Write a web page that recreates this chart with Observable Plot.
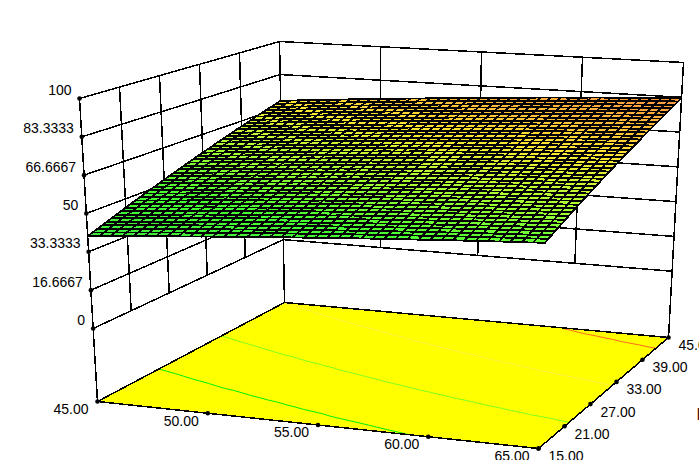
<!DOCTYPE html>
<html><head><meta charset="utf-8">
<style>html,body{margin:0;padding:0;background:#fff;overflow:hidden}svg{display:block}</style>
<script src="https://cdn.jsdelivr.net/npm/d3@7"></script>
<script src="https://cdn.jsdelivr.net/npm/@observablehq/plot@0.6"></script>
</head><body><div id="chart"></div>
<script>
const xTicks=[45,50,55,60,65];
const yTicks=[15,21,27,33,39,45];
const zTicks=[0,16.6667,33.3333,50,66.6667,83.3333,100];
const xLabels=["45.00","50.00","55.00","60.00","65.00"];
const yLabels=["15.00","21.00","27.00","33.00","39.00","45.00"];
const zLabels=["0","16.6667","33.3333","50","66.6667","83.3333","100"];
const contourLevels=[50,60,70,80];
const contourColors=["#00f000","#80ff20","#ffee40","#ff6a20"];
const zFloor=-31.75;
// response (tenths), rows y=15..45, columns x=45..65
const zTenths=[
[401,405,409,413,417,421,425,429,433,436,440,444,447,451,454,458,461,465,468,471,475,478,481,484,487,490,493,496,499,501,504,507,510,512,515,517,520,522,524,527,529],
[409,413,417,421,425,429,433,437,441,444,448,452,455,459,462,466,469,473,476,479,483,486,489,492,495,498,501,504,507,509,512,515,518,520,523,525,528,530,532,535,537],
[416,420,424,428,432,436,440,444,448,451,455,459,462,466,469,473,476,480,483,486,490,493,496,499,502,505,508,511,514,516,519,522,525,527,530,532,535,537,539,542,544],
[424,428,432,436,440,444,448,452,456,459,463,467,470,474,477,481,484,488,491,494,498,501,504,507,510,513,516,519,522,524,527,530,533,535,538,540,543,545,547,550,552],
[431,435,439,443,447,451,455,459,463,466,470,474,477,481,484,488,491,495,498,501,505,508,511,514,517,520,523,526,529,531,534,537,540,542,545,547,550,552,554,557,559],
[439,443,447,451,455,459,463,467,471,474,478,482,485,489,492,496,499,503,506,509,513,516,519,522,525,528,531,534,537,539,542,545,548,550,553,555,558,560,562,565,567],
[446,450,454,458,462,466,470,474,478,481,485,489,492,496,499,503,506,510,513,516,520,523,526,529,532,535,538,541,544,546,549,552,555,557,560,562,565,567,569,572,574],
[454,458,462,466,470,474,478,482,486,489,493,497,500,504,507,511,514,518,521,524,528,531,534,537,540,543,546,549,552,554,557,560,563,565,568,570,573,575,577,580,582],
[461,465,469,473,477,481,485,489,493,496,500,504,507,511,514,518,521,525,528,531,535,538,541,544,547,550,553,556,559,561,564,567,570,572,575,577,580,582,584,587,589],
[469,473,477,481,485,489,493,497,501,504,508,512,515,519,522,526,529,533,536,539,543,546,549,552,555,558,561,564,567,569,572,575,578,580,583,585,588,590,592,595,597],
[476,480,484,488,492,496,500,504,508,511,515,519,522,526,529,533,536,540,543,546,550,553,556,559,562,565,568,571,574,576,579,582,585,587,590,592,595,597,599,602,604],
[484,488,492,496,500,504,508,512,516,519,523,527,530,534,537,541,544,548,551,554,558,561,564,567,570,573,576,579,582,584,587,590,593,595,598,600,603,605,607,610,612],
[491,495,499,503,507,511,515,519,523,526,530,534,537,541,544,548,551,555,558,561,565,568,571,574,577,580,583,586,589,591,594,597,600,602,605,607,610,612,614,617,619],
[499,503,507,511,515,519,523,527,531,534,538,542,545,549,552,556,559,563,566,569,573,576,579,582,585,588,591,594,597,599,602,605,608,610,613,615,618,620,622,625,627],
[506,510,514,518,522,526,530,534,538,541,545,549,552,556,559,563,566,570,573,576,580,583,586,589,592,595,598,601,604,606,609,612,615,617,620,622,625,627,629,632,634],
[514,518,522,526,530,534,538,542,546,549,553,557,560,564,567,571,574,578,581,584,588,591,594,597,600,603,606,609,612,614,617,620,623,625,628,630,633,635,637,640,642],
[521,525,529,533,537,541,545,549,553,556,560,564,567,571,574,578,581,585,588,591,595,598,601,604,607,610,613,616,619,621,624,627,630,632,635,637,640,642,644,647,649],
[529,533,537,541,545,549,553,557,561,564,568,572,575,579,582,586,589,593,596,599,603,606,609,612,615,618,621,624,627,629,632,635,638,640,643,645,648,650,652,655,657],
[536,540,544,548,552,556,560,564,568,571,575,579,582,586,589,593,596,600,603,606,610,613,616,619,622,625,628,631,634,636,639,642,645,647,650,652,655,657,659,662,664],
[544,548,552,556,560,564,568,572,576,579,583,587,590,594,597,601,604,608,611,614,618,621,624,627,630,633,636,639,642,644,647,650,653,655,658,660,663,665,667,670,672],
[551,555,559,563,567,571,575,579,583,586,590,594,597,601,604,608,611,615,618,621,625,628,631,634,637,640,643,646,649,651,654,657,660,662,665,667,670,672,674,677,679],
[559,563,567,571,575,579,583,587,591,594,598,602,605,609,612,616,619,623,626,629,633,636,639,642,645,648,651,654,657,659,662,665,668,670,673,675,678,680,682,685,687],
[566,570,574,578,582,586,590,594,598,601,605,609,612,616,619,623,626,630,633,636,640,643,646,649,652,655,658,661,664,666,669,672,675,677,680,682,685,687,689,692,694],
[574,578,582,586,590,594,598,602,606,609,613,617,620,624,627,631,634,638,641,644,648,651,654,657,660,663,666,669,672,674,677,680,683,685,688,690,693,695,697,700,702],
[581,585,589,593,597,601,605,609,613,616,620,624,627,631,634,638,641,645,648,651,655,658,661,664,667,670,673,676,679,681,684,687,690,692,695,697,700,702,704,707,709],
[589,593,597,601,605,609,613,617,621,624,628,632,635,639,642,646,649,653,656,659,663,666,669,672,675,678,681,684,687,689,692,695,698,700,703,705,708,710,712,715,717],
[596,600,604,608,612,616,620,624,628,631,635,639,642,646,649,653,656,660,663,666,670,673,676,679,682,685,688,691,694,696,699,702,705,707,710,712,715,717,719,722,724],
[604,608,612,616,620,624,628,632,636,639,643,647,650,654,657,661,664,668,671,674,678,681,684,687,690,693,696,699,702,704,707,710,713,715,718,720,723,725,727,730,732],
[611,615,619,623,627,631,635,639,643,646,650,654,657,661,664,668,671,675,678,681,685,688,691,694,697,700,703,706,709,711,714,717,720,722,725,727,730,732,734,737,739],
[619,623,627,631,635,639,643,647,651,654,658,662,665,669,672,676,679,683,686,689,693,696,699,702,705,708,711,714,717,719,722,725,728,730,733,735,738,740,742,745,747],
[626,630,634,638,642,646,650,654,658,661,665,669,672,676,679,683,686,690,693,696,700,703,706,709,712,715,718,721,724,726,729,732,735,737,740,742,745,747,749,752,754],
[634,638,642,646,650,654,658,662,666,669,673,677,680,684,687,691,694,698,701,704,708,711,714,717,720,723,726,729,732,734,737,740,743,745,748,750,753,755,757,760,762],
[641,645,649,653,657,661,665,669,673,676,680,684,687,691,694,698,701,705,708,711,715,718,721,724,727,730,733,736,739,741,744,747,750,752,755,757,760,762,764,767,769],
[649,653,657,661,665,669,673,677,681,684,688,692,695,699,702,706,709,713,716,719,723,726,729,732,735,738,741,744,747,749,752,755,758,760,763,765,768,770,772,775,777],
[656,660,664,668,672,676,680,684,688,691,695,699,702,706,709,713,716,720,723,726,730,733,736,739,742,745,748,751,754,756,759,762,765,767,770,772,775,777,779,782,784],
[664,668,672,676,680,684,688,692,696,699,703,707,710,714,717,721,724,728,731,734,738,741,744,747,750,753,756,759,762,764,767,770,773,775,778,780,783,785,787,790,792],
[671,675,679,683,687,691,695,699,703,706,710,714,717,721,724,728,731,735,738,741,745,748,751,754,757,760,763,766,769,771,774,777,780,782,785,787,790,792,794,797,799],
[679,683,687,691,695,699,703,707,711,714,718,722,725,729,732,736,739,743,746,749,753,756,759,762,765,768,771,774,777,779,782,785,788,790,793,795,798,800,802,805,807],
[686,690,694,698,702,706,710,714,718,721,725,729,732,736,739,743,746,750,753,756,760,763,766,769,772,775,778,781,784,786,789,792,795,797,800,802,805,807,809,812,814],
[694,698,702,706,710,714,718,722,726,729,733,737,740,744,747,751,754,758,761,764,768,771,774,777,780,783,786,789,792,794,797,800,803,805,808,810,813,815,817,820,822],
[701,705,709,713,717,721,725,729,733,736,740,744,747,751,754,758,761,765,768,771,775,778,781,784,787,790,793,796,799,801,804,807,810,812,815,817,820,822,824,827,829]];
const colorDomain=[40,50,60,70,80,85];
const colorRange=["#3ce63c","#46ff32","#aaff32","#ffe632","#ffa53c","#ff8c3c"];
// box view: screen position of the box's floor and ceiling corners (front-left, front-right, back-right, back-left)
const floorView=[[97,401],[538,448],[668,337],[284,302]];
const topView=[[79,98],[548,128],[683,62],[279,41]];

const bil=(q,u,v)=>[0,1].map(k=>(1-u)*(1-v)*q[0][k]+u*(1-v)*q[1][k]+u*v*q[2][k]+(1-u)*v*q[3][k]);
function view(x,y,z){
  const u=(x-45)/20,v=(y-15)/30,w=(z-zFloor)/(100-zFloor);
  const a=bil(floorView,u,v),b=bil(topView,u,v);
  return {px:a[0]+(b[0]-a[0])*w,py:a[1]+(b[1]-a[1])*w};
}
const path=(id,pts,extra={})=>pts.map(p=>({id,...view(...p),...extra}));
const zMin=0,zMax=100;
let wall=[];
zTicks.forEach((z,i)=>wall.push(...path("z"+i,[[45,15,z],[45,45,z],[65,45,z]])));
yTicks.slice(1,-1).forEach((y,i)=>wall.push(...path("y"+i,[[45,y,zMin],[45,y,zMax]])));
xTicks.slice(1,-1).forEach((x,i)=>wall.push(...path("x"+i,[[x,45,zMin],[x,45,zMax]])));
wall.push(...path("c0",[[45,15,zFloor],[45,15,zMax]]),...path("c1",[[45,45,zFloor],[45,45,zMax]]),...path("c2",[[65,45,zFloor],[65,45,zMax]]));
const floor=path("floor",[[45,15,zFloor],[65,15,zFloor],[65,45,zFloor],[45,45,zFloor],[45,15,zFloor]]);
const ny=zTenths.length,nx=zTenths[0].length;
const gx=i=>45+20*i/(nx-1),gy=j=>15+30*j/(ny-1),gz=(i,j)=>zTenths[j][i]/10;
let cells=[],mesh=[];
for(let j=0;j<ny-1;j++)for(let i=0;i<nx-1;i++){
  const c=(gz(i,j)+gz(i+1,j)+gz(i,j+1)+gz(i+1,j+1))/4;
  cells.push(...path(`c${i}_${j}`,[[gx(i),gy(j),gz(i,j)],[gx(i+1),gy(j),gz(i+1,j)],[gx(i+1),gy(j+1),gz(i+1,j+1)],[gx(i),gy(j+1),gz(i,j+1)]],{c}));
}
for(let j=0;j<ny;j++)mesh.push(...path("r"+j,d3.range(nx).map(i=>[gx(i),gy(j),gz(i,j)])));
for(let i=0;i<nx;i++)mesh.push(...path("k"+i,d3.range(ny).map(j=>[gx(i),gy(j),gz(i,j)])));
let cont=[];
contourLevels.forEach((L,n)=>{
  for(let i=0;i<nx;i++)for(let j=0;j<ny-1;j++){
    const a=gz(i,j),b=gz(i,j+1);
    if(a<=L&&b>L)cont.push({...view(gx(i),gy(j)+(L-a)/(b-a)*(gy(j+1)-gy(j)),zFloor),id:"L"+n,col:contourColors[n]});
  }
});
const xDots=xTicks.map((x,i)=>({...view(x,15,zFloor),t:xLabels[i]}));
const yDots=yTicks.map((y,i)=>({...view(65,y,zFloor),t:yLabels[i]}));
const zDots=zTicks.map((z,i)=>({...view(45,15,z),t:zLabels[i]}));
const crisp={shapeRendering:"crispEdges"};
const P={x:"px",y:"py"};
const chart=Plot.plot({
  width:699,height:460,margin:0,
  x:{domain:[0,699],range:[0,699],axis:null},
  y:{domain:[0,460],range:[0,460],axis:null},
  color:{type:"linear",domain:colorDomain,range:colorRange,interpolate:"rgb"},
  style:{fontFamily:"'Liberation Sans',Arial,sans-serif",background:"#fff",color:"#000"},
  marks:[
    Plot.line(floor,{...P,z:"id",fill:"#ffff00",stroke:"none"}),
    Plot.line(cont,{...P,z:"id",stroke:"col",strokeWidth:1}),
    Plot.line(wall,{...P,z:"id",stroke:"#000",strokeWidth:1.5,...crisp}),
    Plot.line(floor,{...P,z:"id",stroke:"#000",strokeWidth:1.5,...crisp}),
    Plot.line(cells,{...P,z:"id",fill:"c",stroke:"none",...crisp}),
    Plot.line(mesh,{...P,z:"id",stroke:"#000",strokeWidth:1.8,...crisp}),
    Plot.dot([...xDots,...yDots,...zDots],{...P,r:2.3,fill:"#000",stroke:"none"}),
    Plot.text(zDots,{...P,text:"t",fontSize:14,textAnchor:"end",dx:-8,dy:-8,fill:"#000"}),
    Plot.text(xDots,{...P,text:"t",fontSize:14,textAnchor:"end",dx:-9,dy:8,fill:"#000"}),
    Plot.text(yDots,{...P,text:"t",fontSize:14,textAnchor:"start",dx:10,dy:8,fill:"#000"}),
    Plot.text(["B"],{x:()=>696,y:()=>414,text:d=>d,fontSize:16,textAnchor:"start",fill:"#4a1010"})
  ]
});
document.getElementById("chart").append(chart);
</script></body></html>
